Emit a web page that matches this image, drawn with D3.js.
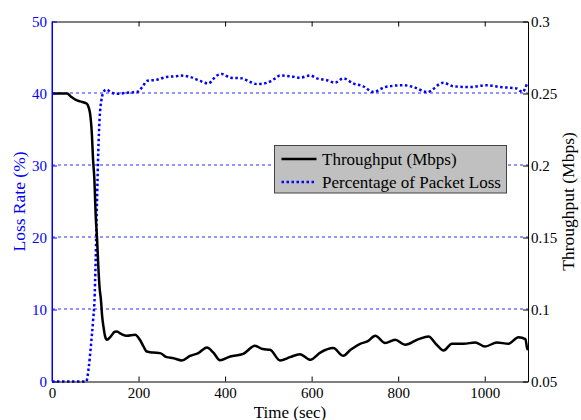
<!DOCTYPE html>
<html>
<head>
<meta charset="utf-8">
<script src="https://cdn.jsdelivr.net/npm/d3@7"></script>
<style>
  body { margin: 0; background: #fff; }
  text { font-family: "Liberation Serif", "Times New Roman", serif; }
</style>
</head>
<body>
<div id="chart"></div>
<script>
// loss rate (%) samples, left axis
var lossTime = [0, 79, 85, 90, 95, 98, 101, 104, 107, 110, 114, 120, 126, 135, 150, 173, 196, 210, 219, 242, 265, 288, 296, 319, 342, 361, 381, 393, 412, 439, 458, 474, 497, 516, 527, 550, 573, 597, 612, 635, 654, 673, 696, 719, 743, 770, 812, 835, 867, 904, 928, 966, 1005, 1036, 1074, 1087, 1098];
var lossRate = [0, 0, 2, 5, 8.5, 11, 17, 25, 32, 36.5, 39, 40.3, 40.55, 40.2, 39.95, 40.1, 40.2, 41, 41.75, 41.9, 42.3, 42.4, 42.5, 42.3, 41.75, 41.4, 42.5, 42.7, 42.2, 42.1, 41.6, 41.3, 41.5, 42.1, 42.5, 42.4, 42.2, 42.5, 42.1, 41.85, 41.5, 42.1, 41.4, 41, 40.2, 40.9, 41.15, 40.9, 40.2, 41.5, 41, 40.9, 41.15, 40.9, 40.7, 40.2, 41.4];

// throughput (Mbps) samples, right axis
var thrTime = [0, 20, 35, 45, 55, 65, 80, 85, 88, 92, 95, 98, 101, 104, 107, 110, 113, 116, 119, 123, 127, 135, 145, 150, 160, 173, 192, 203, 212, 219, 234, 250, 265, 281, 300, 319, 338, 358, 373, 388, 412, 442, 469, 487, 504, 527, 550, 573, 597, 620, 650, 673, 690, 712, 730, 747, 770, 793, 816, 847, 870, 889, 905, 924, 951, 978, 1001, 1028, 1055, 1078, 1094, 1098, 1100];
var throughput = [0.25, 0.25, 0.25, 0.2475, 0.2455, 0.2445, 0.243, 0.24, 0.236, 0.2225, 0.2035, 0.19, 0.165, 0.15, 0.13, 0.115, 0.107, 0.095, 0.088, 0.081, 0.079, 0.081, 0.0845, 0.0847, 0.083, 0.0817, 0.0824, 0.079, 0.074, 0.0708, 0.0701, 0.0697, 0.0669, 0.0662, 0.0646, 0.0678, 0.0697, 0.0736, 0.07, 0.0648, 0.0674, 0.0692, 0.0748, 0.0725, 0.072, 0.0646, 0.0669, 0.069, 0.0651, 0.0701, 0.0732, 0.0678, 0.072, 0.0762, 0.078, 0.0817, 0.0767, 0.079, 0.0755, 0.0794, 0.0813, 0.0755, 0.0715, 0.0762, 0.0762, 0.0771, 0.0743, 0.0771, 0.0762, 0.0808, 0.0794, 0.073, 0.072];

var xTicks = [0, 200, 400, 600, 800, 1000];
var lossTicks = [0, 10, 20, 30, 40, 50];
var thrTicks = [0.05, 0.1, 0.15, 0.2, 0.25, 0.3];
var legendLabels = ["Throughput (Mbps)", "Percentage of Packet Loss"];

var width = 581, height = 420;
var margin = { left: 52, right: 53, top: 21.5, bottom: 38.5 };
var blue = "#0000ff";

var svg = d3.select("#chart").append("svg")
  .attr("width", width)
  .attr("height", height);

var x = d3.scaleLinear().domain([0, 1100]).range([margin.left, width - margin.right]);
var yL = d3.scaleLinear().domain([0, 50]).range([height - margin.bottom, margin.top]);
var yR = d3.scaleLinear().domain([0.05, 0.3]).range([height - margin.bottom, margin.top]);

// dashed grid from left axis
svg.append("g").selectAll("line")
  .data(lossTicks.slice(1, -1))
  .enter().append("line")
  .attr("x1", x(0)).attr("x2", x(1100))
  .attr("y1", function (d) { return yL(d) - 0.5; })
  .attr("y2", function (d) { return yL(d) - 0.5; })
  .style("stroke", "#2a2aff")
  .attr("stroke-width", 1.2)
  .attr("stroke-dasharray", "3,3");

// lines
var thrLine = d3.line()
  .x(function (d, i) { return x(thrTime[i]); })
  .y(function (d) { return yR(d); })
  .curve(d3.curveMonotoneX);

var lossLine = d3.line()
  .x(function (d, i) { return x(lossTime[i]); })
  .y(function (d) { return yL(d); })
  .curve(d3.curveMonotoneX);

svg.append("path")
  .datum(lossRate)
  .attr("d", lossLine)
  .attr("fill", "none")
  .attr("stroke", blue)
  .attr("stroke-width", 2.5)
  .attr("stroke-dasharray", "2.5,2.5");

svg.append("path")
  .datum(throughput)
  .attr("d", thrLine)
  .attr("fill", "none")
  .attr("stroke", "#000")
  .attr("stroke-width", 2.5);

// axes
var axBottom = svg.append("g")
  .attr("transform", "translate(0," + (height - margin.bottom) + ")")
  .call(d3.axisBottom(x).tickValues(xTicks).tickSizeInner(-5).tickSizeOuter(0).tickPadding(6)
    .tickFormat(d3.format("d")));
var axTop = svg.append("g")
  .attr("transform", "translate(0," + margin.top + ")")
  .call(d3.axisTop(x).tickValues(xTicks).tickSizeInner(-5).tickSizeOuter(0).tickFormat(""));
var axLeft = svg.append("g")
  .attr("transform", "translate(" + margin.left + ",0)")
  .call(d3.axisLeft(yL).tickValues(lossTicks).tickSizeInner(-5).tickSizeOuter(0).tickPadding(5));
var axRight = svg.append("g")
  .attr("transform", "translate(" + (width - margin.right) + ",0)")
  .call(d3.axisRight(yR).tickValues(thrTicks).tickSizeInner(-5).tickSizeOuter(0).tickPadding(3)
    .tickFormat(function (d) { return String(+d.toFixed(2)); }));

[axBottom, axTop, axRight].forEach(function (g) {
  g.selectAll("path, line").attr("stroke", "#000");
  g.selectAll("text").attr("font-size", 15).attr("fill", "#000");
});
axLeft.selectAll("path, line").attr("stroke", blue);
axLeft.selectAll("text").attr("font-size", 15).attr("fill", blue);
svg.selectAll(".domain").attr("stroke-width", 1);

// blue left axis line drawn over the black frame
svg.append("line")
  .attr("x1", margin.left).attr("x2", margin.left)
  .attr("y1", yL(0)).attr("y2", yL(50))
  .attr("stroke", blue);

// axis titles
svg.append("text")
  .attr("transform", "translate(19," + yL(25) + ") rotate(-90)")
  .attr("text-anchor", "middle")
  .attr("dy", "0.33em")
  .attr("font-size", 17.5)
  .attr("fill", blue)
  .text("Loss Rate (%)");

svg.append("text")
  .attr("transform", "translate(568," + yR(0.175) + ") rotate(-90)")
  .attr("text-anchor", "middle")
  .attr("dy", "0.33em")
  .attr("font-size", 17.5)
  .attr("fill", "#000")
  .text("Throughput (Mbps)");

svg.append("text")
  .attr("x", x(550))
  .attr("y", 417.5)
  .attr("text-anchor", "middle")
  .attr("font-size", 17)
  .attr("fill", "#000")
  .text("Time (sec)");

// legend
var legend = svg.append("g").attr("transform", "translate(274.5,145.5)");
legend.append("rect")
  .attr("width", 232).attr("height", 47.5)
  .attr("fill", "#c0c0c0")
  .attr("stroke", "#444")
  .attr("stroke-width", 1);

var entries = legend.selectAll(".entry")
  .data(legendLabels)
  .enter().append("g")
  .attr("class", "entry")
  .attr("transform", function (d, i) { return "translate(0," + (13.5 + i * 23) + ")"; });

entries.append("line")
  .attr("x1", 7).attr("x2", 42)
  .attr("stroke", function (d, i) { return i === 0 ? "#000" : blue; })
  .attr("stroke-width", 2.5)
  .attr("stroke-dasharray", function (d, i) { return i === 0 ? null : "2.5,2.5"; });

entries.append("text")
  .attr("x", 47.5)
  .attr("dy", "0.33em")
  .attr("font-size", 17)
  .attr("fill", "#000")
  .text(function (d) { return d; });
</script>
</body>
</html>
